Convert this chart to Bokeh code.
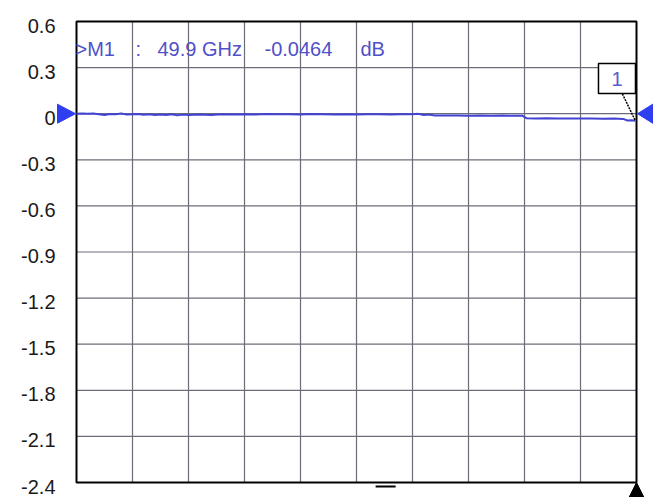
from bokeh.plotting import figure
from bokeh.models import Range1d, Label
from bokeh.embed import file_html
from bokeh.resources import INLINE
from bokeh.core.properties import value

# ---------------- data ----------------
freq_ghz = [0.0, 0.5, 1.0, 1.5, 2.0, 2.5, 3.0, 3.5, 4.0, 4.5, 5.0, 5.5, 6.0, 6.5,
            7.0, 7.5, 8.0, 8.5, 9.0, 9.5, 10.0, 11.0, 12.0, 13.0, 14.0, 15.0, 16.0,
            17.0, 18.0, 19.0, 20.0, 21.0, 22.0, 23.0, 24.0, 25.0, 26.0, 27.0, 28.0,
            29.0, 30.0, 30.5, 31.0, 31.5, 32.0, 33.0, 34.0, 35.0, 36.0, 37.0, 38.0,
            39.0, 39.8, 40.2, 41.0, 42.0, 43.0, 44.0, 45.0, 46.0, 47.0, 48.0, 48.8,
            49.2, 49.5, 49.9]
s21_db = [0.000, 0.002, -0.001, 0.001, -0.003, -0.009, -0.002, -0.004, 0.001, -0.006,
          -0.003, -0.002, -0.007, -0.004, -0.009, -0.005, -0.008, -0.004, -0.010, -0.006,
          -0.009, -0.005, -0.008, -0.004, -0.006, -0.003, -0.005, -0.002, -0.004, -0.003,
          -0.005, -0.002, -0.004, -0.006, -0.003, -0.005, -0.004, -0.003, -0.005, -0.004,
          -0.003, -0.001, -0.009, -0.006, -0.012, -0.011, -0.012, -0.013, -0.012, -0.013,
          -0.012, -0.014, -0.013, -0.030, -0.031, -0.030, -0.031, -0.032, -0.031, -0.032,
          -0.033, -0.032, -0.034, -0.044, -0.042, -0.0464]

x_ticks = [0, 5, 10, 15, 20, 25, 30, 35, 40, 45, 50]
y_ticks = [0.6, 0.3, 0.0, -0.3, -0.6, -0.9, -1.2, -1.5, -1.8, -2.1, -2.4]
y_tick_labels = ["0.6", "0.3", "0", "-0.3", "-0.6", "-0.9", "-1.2", "-1.5", "-1.8", "-2.1", "-2.4"]

marker_freq = 49.9
marker_db = -0.0464
marker_name = "1"
marker_readout = [">M1", ":", "49.9 GHz", "-0.0464", "dB"]
reference_level = 0.0
stimulus_mark = 27.6

# ---------------- layout (pixel styling) ----------------
W, H = 653, 497
GL, GR, GT, GB = 76, 636, 21, 482   # grid box in pixels

x0, x1 = x_ticks[0], x_ticks[-1]
y0, y1 = y_ticks[-1], y_ticks[0]
px_x = (x1 - x0) / (GR - GL)
px_y = (y1 - y0) / (GB - GT)

def dx(px):
    return x0 + (px - GL) * px_x

def dy(py):
    return y1 - (py - GT) * px_y

p = figure(width=W, height=H, output_backend="svg", toolbar_location=None,
           x_range=Range1d(dx(0), dx(W)), y_range=Range1d(dy(H), dy(0)),
           x_axis_location=None, y_axis_location=None, min_border=0)
p.grid.visible = False
p.outline_line_color = None
p.background_fill_color = "white"
p.border_fill_color = "white"

grid_color = "#6c6c78"
# vertical grid lines
vx = x_ticks[1:-1]
p.segment(x0=vx, y0=[y0] * len(vx), x1=vx, y1=[y1] * len(vx),
          line_color=grid_color, line_width=1.2)
# horizontal grid lines
hy = y_ticks[1:-1]
p.segment(x0=[x0] * len(hy), y0=hy, x1=[x1] * len(hy), y1=hy,
          line_color=grid_color, line_width=1.2)
# frame
p.quad(left=[x0], right=[x1], bottom=[y0], top=[y1],
       fill_color=None, line_color="black", line_width=2)

# y tick labels
p.text(x=[dx(55)] * len(y_ticks), y=[t - 4 * px_y for t in y_ticks], text=y_tick_labels,
       text_align="right", text_baseline="middle",
       text_font=value("Liberation Sans"), text_font_size="20px", text_color="#1a1a1a")

# trace
p.line(freq_ghz, s21_db, line_color="#4343d2", line_width=2)

# marker box + leader
p.segment(x0=[marker_freq - 13 * px_x], y0=[marker_db + 27 * px_y],
          x1=[marker_freq], y1=[marker_db],
          line_color="black", line_width=1.5, line_dash="2 1")
p.rect(x=[marker_freq - 18.4 * px_x], y=[marker_db + 42.3 * px_y],
       width=37, height=30, width_units="screen", height_units="screen",
       fill_color="white", line_color="black", line_width=1.5)
p.add_layout(Label(x=marker_freq - 18.4 * px_x, y=marker_db + 42.3 * px_y,
                   text=marker_name, text_align="center", text_baseline="middle",
                   text_font="Liberation Sans", text_font_size="20px",
                   text_color="#5a5ad0"))

# marker readout
readout_x = [75, 135, 157, 264, 360]
for t, xp in zip(marker_readout, readout_x):
    p.add_layout(Label(x=dx(xp), y=dy(48), text=t, text_align="left",
                       text_baseline="alphabetic", text_font="Liberation Sans",
                       text_font_size="20px", text_color="#5050c8"))

# reference level triangles (left pointing right, right pointing left)
blue = "#2f3ff0"
tri_xs = [
    [x0 - 1 * px_x, x0 - 19 * px_x, x0 - 19 * px_x],
    [x1 + 1 * px_x, x1 + 17 * px_x, x1 + 17 * px_x],
]
tri_ys = [
    [reference_level, reference_level + 9.5 * px_y, reference_level - 9.5 * px_y],
    [reference_level, reference_level + 10 * px_y, reference_level - 10 * px_y],
]
p.patches(tri_xs, tri_ys, fill_color=blue, line_color=blue, line_width=1)

# stop indicator triangle under bottom-right corner
p.patch([x1, x1 - 8 * px_x, x1 + 8 * px_x], [y0, y0 - 16 * px_y, y0 - 16 * px_y],
        fill_color="black", line_color="black", line_width=1)

# stimulus dash below the grid
p.segment(x0=[stimulus_mark - 10 * px_x], y0=[y0 - 4 * px_y],
          x1=[stimulus_mark + 10 * px_x], y1=[y0 - 4 * px_y],
          line_color="black", line_width=2)

open("out.html", "w").write(file_html(p, INLINE))
